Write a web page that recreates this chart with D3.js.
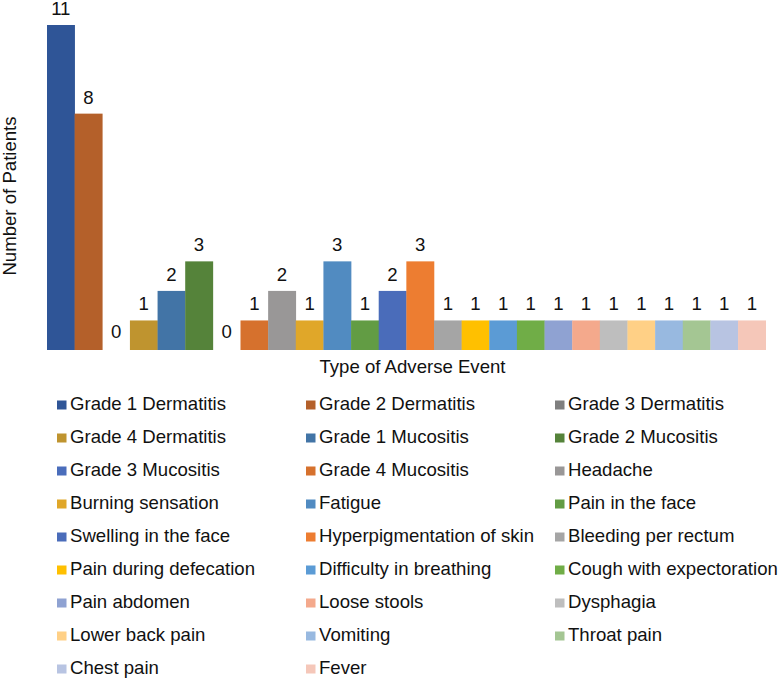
<!DOCTYPE html>
<html>
<head>
<meta charset="utf-8">
<script src="https://cdn.jsdelivr.net/npm/d3@7"></script>
<style>
  html, body { margin: 0; padding: 0; background: #fff; }
  text { font-family: "Liberation Sans", Arial, sans-serif; fill: #111; }
</style>
</head>
<body>
<svg id="chart" width="780" height="678"></svg>
<script>
const seriesNames = [
  "Grade 1 Dermatitis", "Grade 2 Dermatitis", "Grade 3 Dermatitis",
  "Grade 4 Dermatitis", "Grade 1 Mucositis", "Grade 2 Mucositis",
  "Grade 3 Mucositis", "Grade 4 Mucositis", "Headache",
  "Burning sensation", "Fatigue", "Pain in the face",
  "Swelling in the face", "Hyperpigmentation of skin", "Bleeding per rectum",
  "Pain during defecation", "Difficulty in breathing", "Cough with expectoration",
  "Pain abdomen", "Loose stools", "Dysphagia",
  "Lower back pain", "Vomiting", "Throat pain",
  "Chest pain", "Fever"
];
const patientCounts = [11, 8, 0, 1, 2, 3, 0, 1, 2, 1, 3, 1, 2, 3, 1, 1, 1, 1, 1, 1, 1, 1, 1, 1, 1, 1];
const seriesColors = [
  "#2F5597", "#B4602A", "#7F7F7F",
  "#BF942F", "#4274A6", "#55833A",
  "#4A6DBB", "#D6712D", "#999797",
  "#E0A729", "#518BC1", "#629C44",
  "#4A6CBA", "#ED7D31", "#A5A5A5",
  "#FFC000", "#5B9BD5", "#70AD47",
  "#8FA2D2", "#F4A98C", "#BEBEBE",
  "#FFD086", "#98B9E0", "#A4C693",
  "#B8C4E2", "#F5C7B9"
];
const xTitle = "Type of Adverse Event";
const yTitle = "Number of Patients";

const svg = d3.select("#chart");
const FS = "18.6px";

const x = d3.scaleBand().domain(seriesNames).range([47, 765.7]).padding(0);
const y = d3.scaleLinear().domain([0, 11]).range([350, 25]);
const color = d3.scaleOrdinal().domain(seriesNames).range(seriesColors);

const data = seriesNames.map((n, i) => ({ name: n, value: patientCounts[i] }));

svg.append("g").selectAll("rect").data(data).join("rect")
  .attr("x", d => x(d.name))
  .attr("y", d => y(d.value))
  .attr("width", x.bandwidth() + 0.3)
  .attr("height", d => y(0) - y(d.value))
  .attr("fill", d => color(d.name));

svg.append("g").selectAll("text").data(data).join("text")
  .attr("x", d => x(d.name) + x.bandwidth() / 2)
  .attr("y", d => y(d.value) - (d.value === 0 ? 12 : 10))
  .attr("text-anchor", "middle")
  .style("font-size", FS)
  .text(d => d.value);

svg.append("text")
  .attr("x", 412.5).attr("y", 372.7)
  .attr("text-anchor", "middle")
  .style("font-size", FS)
  .text(xTitle);

svg.append("text")
  .attr("transform", "translate(15.5,196) rotate(-90)")
  .attr("text-anchor", "middle")
  .style("font-size", FS)
  .text(yTitle);

// legend: 3 columns, row-major
const colX = [57, 306, 555];
const rowY0 = 410, rowStep = 33;
const lg = svg.append("g").selectAll("g").data(data).join("g")
  .attr("transform", (d, i) => `translate(${colX[i % 3]},${rowY0 + Math.floor(i / 3) * rowStep})`);
lg.append("rect")
  .attr("x", 0).attr("y", -9.5)
  .attr("width", 9.5).attr("height", 9)
  .attr("fill", d => color(d.name));
lg.append("text")
  .attr("x", 13).attr("y", 0)
  .style("font-size", FS)
  .text(d => d.name);
</script>
</body>
</html>
